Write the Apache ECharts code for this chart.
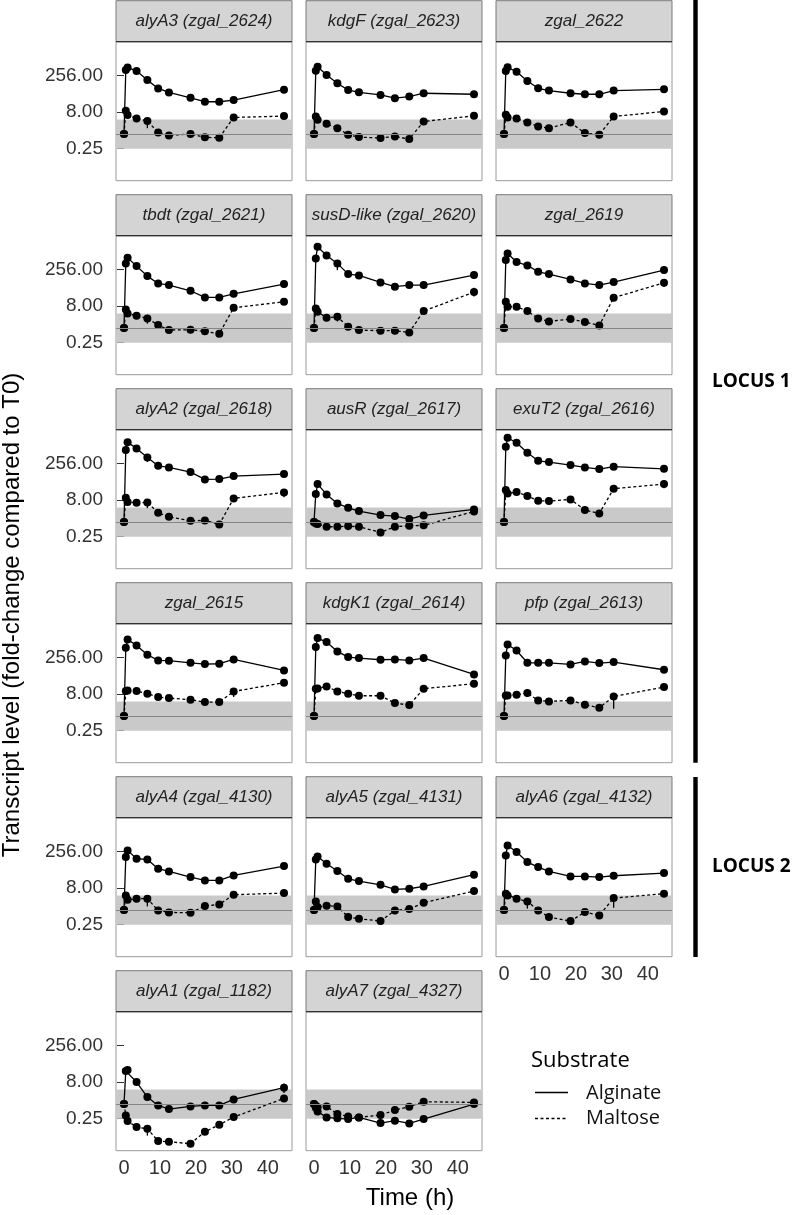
<!DOCTYPE html>
<html><head><meta charset="utf-8">
<script src="https://cdn.jsdelivr.net/npm/echarts@6/dist/echarts.min.js"></script>
<style>html,body{margin:0;padding:0;background:#fff}#c{width:795px;height:1215px}</style>
</head><body><div id="c"></div>
<script>
// Sampling times (h)
const times = [0, 0.5, 1, 3.5, 6.5, 9.5, 12.5, 18.5, 22.5, 26.5, 30.5, 44.5];

// Facet titles
const panelTitles = [
  'alyA3 (zgal_2624)', 'kdgF (zgal_2623)', 'zgal_2622',
  'tbdt (zgal_2621)', 'susD-like (zgal_2620)', 'zgal_2619',
  'alyA2 (zgal_2618)', 'ausR (zgal_2617)', 'exuT2 (zgal_2616)',
  'zgal_2615', 'kdgK1 (zgal_2614)', 'pfp (zgal_2613)',
  'alyA4 (zgal_4130)', 'alyA5 (zgal_4131)', 'alyA6 (zgal_4132)',
  'alyA1 (zgal_1182)', 'alyA7 (zgal_4327)'
];

// log2 fold-change compared to T0, Alginate
const alg_alyA3 = [0, 8.73, 9.09, 8.59, 7.36, 6.23, 5.68, 4.95, 4.41, 4.41, 4.64, 6.05];
const alg_kdgF  = [0, 8.64, 9.19, 8.05, 6.92, 6.02, 5.70, 5.34, 4.89, 5.11, 5.57, 5.43];
const alg_2622  = [0, 8.60, 9.10, 8.50, 7.24, 6.24, 5.93, 5.57, 5.43, 5.43, 5.93, 6.11];
const alg_tbdt  = [0, 8.82, 9.59, 8.45, 7.09, 6.09, 5.86, 5.09, 4.18, 4.18, 4.68, 6.00];
const alg_susD  = [0, 9.50, 11.10, 9.90, 8.82, 7.36, 7.18, 6.23, 5.64, 5.86, 5.86, 7.23];
const alg_2619  = [0, 9.27, 10.18, 9.00, 8.55, 7.68, 7.36, 6.64, 6.09, 5.86, 6.27, 7.91];
const alg_alyA2 = [0, 9.82, 10.90, 10.05, 8.82, 7.68, 7.45, 6.82, 5.82, 5.86, 6.27, 6.55];
const alg_ausR  = [0, 3.82, 5.18, 3.77, 2.55, 1.95, 1.50, 0.95, 0.82, 0.41, 0.91, 1.73];
const alg_exuT2 = [0, 10.27, 11.50, 10.82, 9.45, 8.36, 8.18, 7.77, 7.45, 7.23, 7.55, 7.27];
const alg_2615  = [0, 9.32, 10.45, 9.64, 8.36, 7.59, 7.55, 7.27, 7.09, 7.14, 7.73, 6.23];
const alg_kdgK1 = [0, 9.41, 10.64, 10.09, 8.82, 8.05, 7.91, 7.68, 7.73, 7.59, 7.91, 5.68];
const alg_pfp   = [0, 8.27, 9.77, 8.95, 7.27, 7.27, 7.27, 7.05, 7.45, 7.23, 7.36, 6.32];
const alg_alyA4 = [0, 7.23, 8.14, 7.00, 6.91, 5.64, 5.27, 4.50, 4.05, 4.05, 4.73, 6.00];
const alg_alyA5 = [0, 6.91, 7.32, 6.32, 5.32, 4.27, 3.95, 3.45, 2.82, 2.91, 3.23, 4.82];
const alg_alyA6 = [0, 7.45, 8.82, 7.91, 6.55, 5.86, 5.27, 4.59, 4.59, 4.50, 4.68, 5.05];
const alg_alyA1 = [0, 4.50, 4.64, 3.00, 0.95, -0.18, -0.68, -0.32, -0.18, -0.18, 0.64, 2.23];
const alg_alyA7 = [0, -0.50, -1.00, -1.82, -1.95, -2.05, -1.82, -2.59, -2.27, -2.64, -2.05, 0.00];

// log2 fold-change compared to T0, Maltose
const mal_alyA3 = [0, 3.18, 2.59, 2.14, 1.77, 0.23, -0.18, 0.00, -0.45, -0.50, 2.27, 2.45];
const mal_kdgF  = [0, 2.40, 1.95, 1.40, 0.81, -0.09, -0.41, -0.54, -0.32, -0.68, 1.72, 2.49];
const mal_2622  = [0, 2.62, 2.26, 2.13, 1.58, 1.04, 0.81, 1.58, 0.14, -0.09, 2.40, 3.08];
const mal_tbdt  = [0, 2.55, 2.00, 1.68, 1.32, 0.41, -0.27, -0.23, -0.45, -0.77, 2.77, 3.59];
const mal_susD  = [0, 2.68, 2.23, 1.41, 1.55, 0.18, -0.27, -0.36, -0.36, -0.59, 2.32, 4.91];
const mal_2619  = [0, 3.59, 2.91, 2.91, 2.32, 1.32, 0.91, 1.23, 0.82, 0.36, 4.14, 6.18];
const mal_alyA2 = [0, 3.32, 2.73, 2.64, 2.68, 1.27, 0.73, 0.18, 0.23, -0.32, 3.23, 4.05];
const mal_ausR  = [0, -0.18, -0.27, -0.64, -0.64, -0.55, -0.64, -1.41, -0.64, -0.50, -0.45, 1.45];
const mal_exuT2 = [0, 4.36, 3.91, 4.09, 3.55, 2.91, 2.86, 3.09, 1.64, 1.18, 4.55, 5.18];
const mal_2615  = [0, 3.41, 3.50, 3.41, 3.05, 2.59, 2.45, 2.23, 1.91, 1.91, 3.36, 4.55];
const mal_kdgK1 = [0, 3.73, 3.77, 4.05, 3.36, 3.05, 2.77, 2.77, 1.77, 1.50, 3.73, 4.41];
const mal_pfp   = [0, 2.82, 2.82, 2.91, 3.14, 2.14, 2.00, 2.14, 1.55, 1.14, 2.68, 3.95];
const mal_alyA4 = [0, 2.00, 1.41, 1.55, 1.55, -0.05, -0.32, -0.36, 0.55, 0.77, 2.09, 2.32];
const mal_alyA5 = [0, 1.18, 0.41, 0.59, 0.50, -0.95, -1.18, -1.50, -0.05, 0.14, 1.00, 2.59];
const mal_alyA6 = [0, 2.23, 2.00, 1.55, 1.18, -0.05, -0.95, -1.50, -0.27, -0.73, 1.64, 2.23];
const mal_alyA1 = [0, -1.55, -2.32, -3.14, -3.36, -5.05, -5.14, -5.41, -3.77, -2.82, -1.77, 0.77];
const mal_alyA7 = [0, -0.23, -0.45, -0.32, -1.36, -1.68, -1.82, -1.50, -0.82, -0.36, 0.32, 0.23];

const alginateSeries = [alg_alyA3, alg_kdgF, alg_2622, alg_tbdt, alg_susD, alg_2619, alg_alyA2, alg_ausR, alg_exuT2, alg_2615, alg_kdgK1, alg_pfp, alg_alyA4, alg_alyA5, alg_alyA6, alg_alyA1, alg_alyA7];
const maltoseSeries  = [mal_alyA3, mal_kdgF, mal_2622, mal_tbdt, mal_susD, mal_2619, mal_alyA2, mal_ausR, mal_exuT2, mal_2615, mal_kdgK1, mal_pfp, mal_alyA4, mal_alyA5, mal_alyA6, mal_alyA1, mal_alyA7];

// Visible error bars: [panel index, time index, lower log2, upper log2]
const errAlginate = [
  [3, 11, 5.5, 6.5], [4, 4, 7.9, 9.3], [4, 11, 6.8, 7.7], [5, 11, 7.5, 8.3],
  [6, 4, 8.2, 9.3], [8, 11, 6.9, 7.6], [10, 11, 5.3, 6.0], [15, 11, 1.5, 2.8]
];
const errMaltose = [
  [0, 4, 0.8, 2.2], [3, 4, 0.6, 1.8], [4, 4, 0.9, 2.0], [4, 11, 4.3, 5.5],
  [5, 11, 5.6, 6.7], [6, 4, 1.9, 3.1], [6, 11, 3.4, 4.5],
  [7, 3, -1.1, -0.4], [7, 4, -1.1, -0.4], [7, 5, -1.1, -0.4], [7, 6, -1.1, -0.4],
  [8, 11, 4.6, 5.7], [9, 10, 2.6, 3.8], [11, 4, 2.6, 3.7], [11, 10, 1.0, 3.0],
  [12, 4, 0.5, 2.0], [14, 4, 0.2, 1.6], [14, 10, 0.3, 2.0],
  [15, 1, -1.9, -1.2], [15, 4, -4.3, -2.9]
];

// Tick values (log2 of 0.25, 8, 256) and x ticks
const yTickValues = [-2, 3, 8];
const xTickValues = [0, 10, 20, 30, 40];
const bandLimits = [-2, 2];   // 0.25 .. 4 fold
const baselineValue = 0;      // fold change 1
const seriesNames = ['Alginate', 'Maltose'];

// Layout
const colLeft = [116, 306, 496];
const panelW = 176, panelH = 139, stripH = 41, rowPitch = 194, firstTop = 41.7;
const fontAxis = '"Liberation Sans", Arial, sans-serif';

function errRender(params, api) {
  const p1 = api.coord([api.value(0), api.value(1)]);
  const p2 = api.coord([api.value(0), api.value(2)]);
  return {type: 'line', shape: {x1: p1[0], y1: p1[1], x2: p2[0], y2: p2[1]},
    style: {stroke: '#000', lineWidth: 1.3}};
}

const grids = [], xAxes = [], yAxes = [], series = [], graphics = [];
panelTitles.forEach((title, i) => {
  const row = Math.floor(i / 3), col = i % 3;
  const left = colLeft[col], top = firstTop + row * rowPitch;
  const showX = (i === 14 || i === 15 || i === 16);
  const showY = col === 0;
  grids.push({left: left, top: top, width: panelW, height: panelH, show: true,
    borderColor: '#9a9a9a', borderWidth: 1, backgroundColor: '#fff', outerBoundsMode: 'none'});
  xAxes.push({gridIndex: i, type: 'value', min: -2.225, max: 46.725,
    axisLine: {show: false}, splitLine: {show: false},
    axisTick: {show: showX, length: 5, customValues: xTickValues, lineStyle: {color: '#333', width: 1}},
    axisLabel: {show: showX, customValues: xTickValues, color: '#333', fontSize: 20, fontFamily: fontAxis, margin: 8}
  });
  yAxes.push({gridIndex: i, type: 'value', min: -6.36, max: 12.6,
    axisLine: {show: false}, splitLine: {show: false},
    axisTick: {show: showY, length: 7, customValues: yTickValues, lineStyle: {color: '#333', width: 1}},
    axisLabel: {show: showY, customValues: yTickValues, color: '#333', fontSize: 19, fontFamily: fontAxis, margin: 13,
      formatter: v => Math.pow(2, v).toFixed(2)}
  });
  series.push({
    type: 'line', name: seriesNames[0], xAxisIndex: i, yAxisIndex: i,
    data: times.map((t, k) => [t, alginateSeries[i][k]]),
    symbol: 'circle', symbolSize: 8, showSymbol: true,
    itemStyle: {color: '#000'}, lineStyle: {color: '#000', width: 1.3},
    animation: false, z: 3,
    markArea: {silent: true, itemStyle: {color: '#c9c9c9'}, data: [[{yAxis: bandLimits[0]}, {yAxis: bandLimits[1]}]]},
    markLine: {silent: true, symbol: 'none', label: {show: false}, animation: false,
      lineStyle: {color: '#858585', width: 1, type: 'solid'}, data: [{yAxis: baselineValue}]}
  });
  series.push({
    type: 'line', name: seriesNames[1], xAxisIndex: i, yAxisIndex: i,
    data: times.map((t, k) => [t, maltoseSeries[i][k]]),
    symbol: 'circle', symbolSize: 8, showSymbol: true,
    itemStyle: {color: '#000'}, lineStyle: {color: '#000', width: 1.3, type: [3, 2.5]},
    animation: false, z: 3
  });
  const eb = errAlginate.filter(e => e[0] === i).concat(errMaltose.filter(e => e[0] === i))
    .map(e => [times[e[1]], e[2], e[3]]);
  if (eb.length) {
    series.push({type: 'custom', xAxisIndex: i, yAxisIndex: i, data: eb, renderItem: errRender,
      silent: true, animation: false, z: 2});
  }
  // strip
  graphics.push({type: 'rect', shape: {x: left, y: top - stripH, width: panelW, height: stripH},
    style: {fill: '#d4d4d4', stroke: '#7a7a7a', lineWidth: 1}, z: 10});
  graphics.push({type: 'line', shape: {x1: left, y1: top, x2: left + panelW, y2: top},
    style: {stroke: '#333', lineWidth: 1.2}, z: 11});
  graphics.push({type: 'text', x: left + panelW / 2, y: top - stripH / 2,
    style: {text: title, align: 'center', verticalAlign: 'middle', font: 'italic 17px ' + fontAxis, fill: '#222'}, z: 12});
});

// Locus bars and labels
graphics.push({type: 'rect', shape: {x: 693.3, y: 0, width: 4.4, height: 762.7}, style: {fill: '#000'}});
graphics.push({type: 'rect', shape: {x: 693.3, y: 777, width: 4.4, height: 180}, style: {fill: '#000'}});
graphics.push({type: 'text', x: 712, y: 381.5, style: {text: 'LOCUS 1', verticalAlign: 'middle', font: 'bold 19px "Open Sans", sans-serif', fill: '#000'}});
graphics.push({type: 'text', x: 712, y: 867, style: {text: 'LOCUS 2', verticalAlign: 'middle', font: 'bold 19px "Open Sans", sans-serif', fill: '#000'}});

// Axis titles
graphics.push({type: 'text', x: 12, y: 615, rotation: Math.PI / 2,
  style: {text: 'Transcript level (fold-change compared to T0)', align: 'center', verticalAlign: 'middle', font: '24px ' + fontAxis, fill: '#000'}});
graphics.push({type: 'text', x: 410, y: 1198,
  style: {text: 'Time (h)', align: 'center', verticalAlign: 'middle', font: '24px ' + fontAxis, fill: '#000'}});

// Legend
graphics.push({type: 'text', x: 531, y: 1061, style: {text: 'Substrate', verticalAlign: 'middle', font: '22px "Open Sans", sans-serif', fill: '#000'}});
graphics.push({type: 'line', shape: {x1: 535, y1: 1092.5, x2: 568, y2: 1092.5}, style: {stroke: '#000', lineWidth: 1.3}});
graphics.push({type: 'text', x: 586, y: 1093, style: {text: seriesNames[0], verticalAlign: 'middle', font: '20px "Open Sans", sans-serif', fill: '#111'}});
graphics.push({type: 'line', shape: {x1: 535, y1: 1118.5, x2: 568, y2: 1118.5}, style: {stroke: '#000', lineWidth: 1.3, lineDash: [3, 2.5]}});
graphics.push({type: 'text', x: 586, y: 1118.5, style: {text: seriesNames[1], verticalAlign: 'middle', font: '20px "Open Sans", sans-serif', fill: '#111'}});

const chart = echarts.init(document.getElementById('c'), null, {renderer: 'canvas'});
chart.setOption({
  animation: false,
  backgroundColor: '#fff',
  textStyle: {fontFamily: fontAxis},
  grid: grids, xAxis: xAxes, yAxis: yAxes, series: series,
  graphic: graphics
});
</script></body></html>
